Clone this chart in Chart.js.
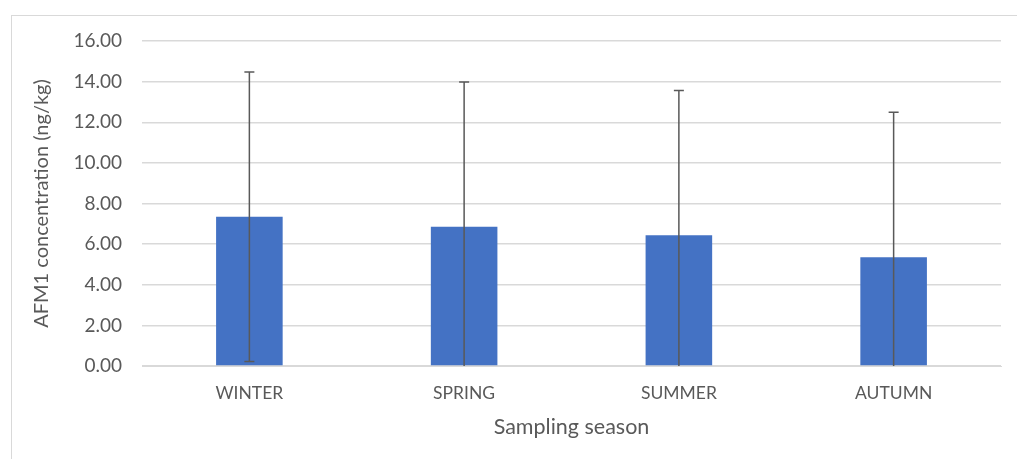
<!DOCTYPE html>
<html>
<head>
<meta charset="utf-8">
<script src="https://cdn.jsdelivr.net/npm/chart.js@4.4.1/dist/chart.umd.min.js"></script>
<style>
    html, body { margin: 0; padding: 0; background: #fff; }
    #wrap { position: relative; width: 1017px; height: 459px; }
    #frame { position: absolute; left: 11px; top: 15px; right: -2px; bottom: -2px; border: 1px solid #d9d9d9; }
    #chart { position: absolute; left: 0; top: 0; }
</style>
</head>
<body>
<div id="wrap">
    <div id="frame"></div>
    <canvas id="chart" width="1017" height="459"></canvas>
</div>
<script>
// Data
const seasons = ['WINTER', 'SPRING', 'SUMMER', 'AUTUMN'];
const meanValues = [7.35, 6.86, 6.44, 5.35];
const sdValues = [7.13, 7.12, 7.12, 7.14];
const yTicks = [0, 2, 4, 6, 8, 10, 12, 14, 16];

const textColor = '#595959';
const fontFamily = 'Lato, "Open Sans", sans-serif';

// Error bars drawn from the y scale (lower end clipped at axis minimum)
const errorBars = {
    id: 'errorBars',
    afterDatasetsDraw(chart) {
        const ctx = chart.ctx;
        const y = chart.scales.y;
        const meta = chart.getDatasetMeta(0);
        ctx.save();
        ctx.strokeStyle = '#595959';
        ctx.lineWidth = 1.5;
        meta.data.forEach((bar, i) => {
            const hi = meanValues[i] + sdValues[i];
            const lo = meanValues[i] - sdValues[i];
            const yHi = y.getPixelForValue(hi);
            const yLo = y.getPixelForValue(Math.max(lo, y.min));
            ctx.beginPath();
            ctx.moveTo(bar.x, yHi);
            ctx.lineTo(bar.x, yLo);
            ctx.moveTo(bar.x - 5, yHi);
            ctx.lineTo(bar.x + 5, yHi);
            if (lo >= y.min) {
                ctx.moveTo(bar.x - 5, yLo);
                ctx.lineTo(bar.x + 5, yLo);
            }
            ctx.stroke();
        });
        ctx.restore();
    }
};

const ctx = document.getElementById('chart').getContext('2d');
new Chart(ctx, {
    type: 'bar',
    data: {
        labels: seasons,
        datasets: [{
            data: meanValues,
            backgroundColor: '#4472c4',
            borderWidth: 0,
            categoryPercentage: 1,
            barPercentage: 0.31
        }]
    },
    options: {
        responsive: false,
        animation: false,
        layout: { padding: { top: 41, right: 16, bottom: 0, left: 24 } },
        plugins: { legend: { display: false }, tooltip: { enabled: false } },
        scales: {
            x: {
                afterFit: axis => { axis.height = 93; },
                grid: { display: false, drawTicks: false },
                border: { display: true, color: '#d9d9d9', width: 1 },
                ticks: { color: textColor, font: { family: fontFamily, size: 17.5 }, padding: 17 },
                title: {
                    display: true, text: 'Sampling season', color: textColor,
                    font: { family: fontFamily, size: 21.5 }, padding: { top: 0, bottom: 19 }
                }
            },
            y: {
                min: 0,
                max: 16,
                afterBuildTicks: axis => { axis.ticks = yTicks.map(v => ({ value: v })); },
                afterFit: axis => { axis.width = 118; },
                grid: { color: '#d9d9d9', lineWidth: 1.5, drawTicks: false },
                border: { display: false },
                ticks: {
                    color: textColor, font: { family: fontFamily, size: 19 }, padding: 20,
                    callback: v => v.toFixed(2)
                },
                title: {
                    display: true, text: 'AFM1 concentration (ng/kg)', color: textColor,
                    font: { family: fontFamily, size: 20 }, padding: { top: 6, bottom: 4 }
                }
            }
        }
    },
    plugins: [errorBars]
});
</script>
</body>
</html>
